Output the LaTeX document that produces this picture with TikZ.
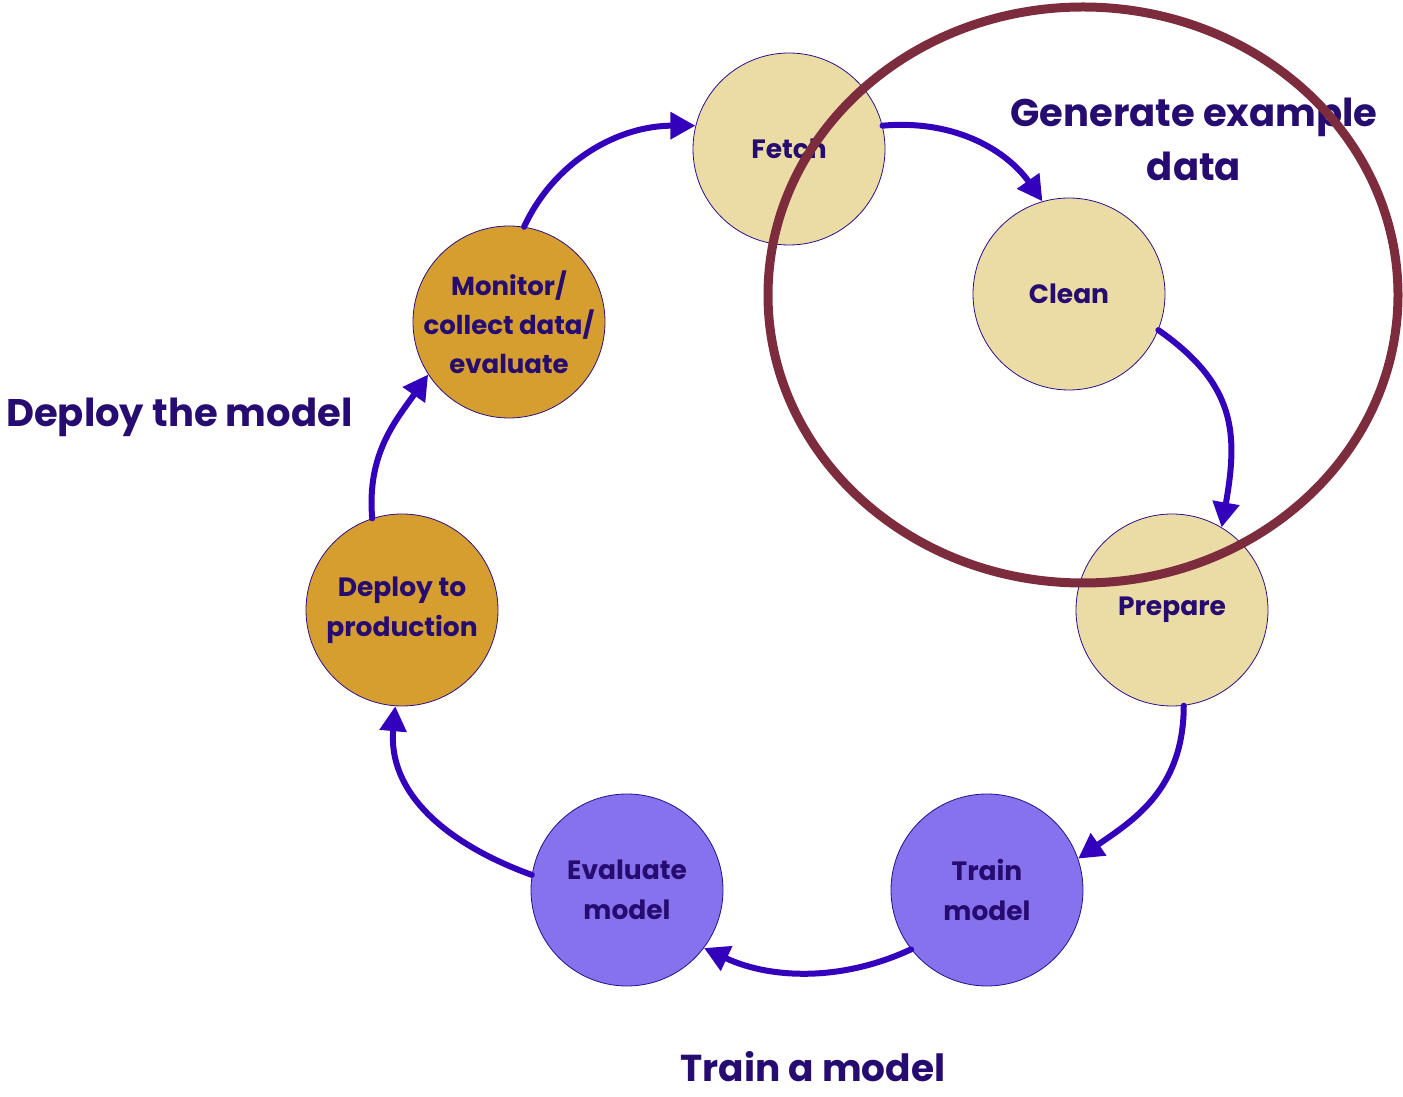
\documentclass[tikz,border=0pt]{standalone}
\usepackage{fontspec}
\setmainfont{Poppins}
\usetikzlibrary{arrows.meta}
\definecolor{tanfill}{HTML}{EBDCA6}
\definecolor{ochre}{HTML}{D69E2E}
\definecolor{violetfill}{HTML}{8572EC}
\definecolor{rimline}{HTML}{2A0F8C}
\definecolor{inktext}{HTML}{260B70}
\definecolor{flow}{HTML}{3300BB}
\definecolor{maroon}{HTML}{7D2C3D}
\tikzset{
  stage/.style={circle, draw=rimline, line width=0.8pt, minimum size=192pt, inner sep=-20pt,
    align=center, text=inktext, font=\fontsize{26.5}{40}\selectfont\bfseries},
  datastage/.style={stage, fill=tanfill},
  deploystage/.style={stage, fill=ochre},
  trainstage/.style={stage, fill=violetfill},
  flowarrow/.style={draw=flow, line width=6pt, line cap=round,
    -{Triangle[length=25pt,width=26pt]}},
  phase/.style={text=inktext, font=\fontsize{38.5}{54}\selectfont\bfseries, align=center, inner sep=0pt},
}
\begin{document}
\begin{tikzpicture}[x=1pt,y=1pt]
\useasboundingbox (0,0) rectangle (1403,1096);

% the seven stages of the cycle
\node[datastage]   (fetch)    at (789,947) {Fetch};
\node[datastage]   (clean)    at (1069,802) {Clean};
\node[datastage]   (prepare)  at (1172,486) {Prepare};
\node[trainstage]  (train)    at (987,206) {Train\\model};
\node[trainstage]  (evaluate) at (627,206) {Evaluate\\model};
\node[deploystage] (deploy)   at (402,486) {Deploy to\\production};
\node[deploystage, font=\fontsize{26}{39}\selectfont\bfseries] (monitor) at (509,774) {Monitor/\\collect data/\\evaluate};

% connectors around the cycle
\draw[flowarrow] (fetch.14) .. controls +(5:75) and +(125:60) .. (clean.106);
\draw[flowarrow] (clean.-22) .. controls +(-35:95) and +(80:95) .. (prepare.59);
\draw[flowarrow] (prepare.-83) .. controls +(-90:85) and +(35:65) .. (train.19);
\draw[flowarrow] (train.218) .. controls +(-155:75) and +(-25:75) .. (evaluate.-37);
\draw[flowarrow] (evaluate.171) .. controls +(160:95) and +(-95:85) .. (deploy.-94);
\draw[flowarrow] (deploy.108) .. controls +(95:65) and +(235:55) .. (monitor.213);
\draw[flowarrow] (monitor.81) .. controls +(65:75) and +(180:75) .. (fetch.166);

% phase captions
\node[phase] (gen) at (1194,957) {Generate example\\data};
\node[phase, anchor=west] (dep) at (6,679) {Deploy the model};
\node[phase, font=\fontsize{37.5}{54}\selectfont\bfseries] (trn) at (813,29) {Train a model};

% ring around the data stages
\draw[maroon, line width=9pt] (1083,801) ellipse [x radius=315, y radius=288];
\end{tikzpicture}
\end{document}
